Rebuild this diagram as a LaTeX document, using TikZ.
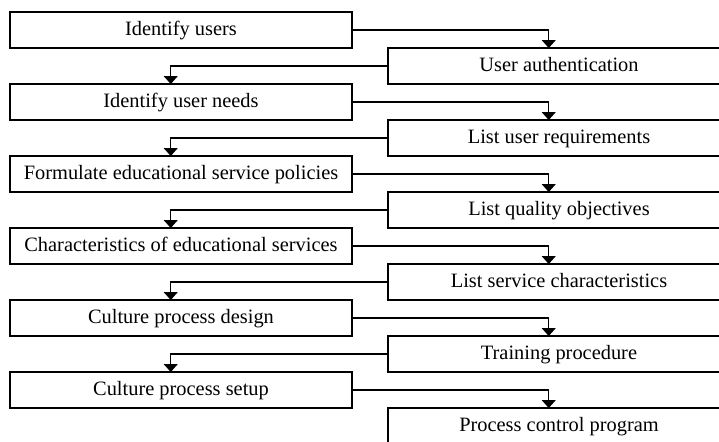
\documentclass[tikz,border=0pt]{standalone}
\usepackage{fontspec}
\setmainfont{Liberation Serif}
\usetikzlibrary{arrows.meta,positioning,calc}

\begin{document}
\begin{tikzpicture}[every node/.style={font=\fontsize{10.2}{12}\selectfont},
  stage/.style={draw,line width=1pt,outer sep=0pt,inner sep=0pt,
    minimum width=171pt,minimum height=18pt,text height=7pt,text depth=1.6pt},
  link/.style={line width=0.7pt,-{Triangle[width=7pt,length=4pt]}}]
\clip (0,0) rectangle (359.5pt,-220.5pt);
\node[stage,anchor=north west] (u1) at (5pt,-6pt) {Identify users};
\node[stage,below right=0pt and 18pt of u1] (a1) {User authentication};
\node[stage,below left=0pt and 18pt of a1] (u2) {Identify user needs};
\node[stage,below right=0pt and 18pt of u2] (a2) {List user requirements};
\node[stage,below left=0pt and 18pt of a2] (u3) {Formulate educational service policies};
\node[stage,below right=0pt and 18pt of u3] (a3) {List quality objectives};
\node[stage,below left=0pt and 18pt of a3] (u4) {Characteristics of educational services};
\node[stage,below right=0pt and 18pt of u4] (a4) {List service characteristics};
\node[stage,below left=0pt and 18pt of a4] (u5) {Culture process design};
\node[stage,below right=0pt and 18pt of u5] (a5) {Training procedure};
\node[stage,below left=0pt and 18pt of a5] (u6) {Culture process setup};
\node[stage,below right=0pt and 18pt of u6] (a6) {Process control program};
% zig-zag links
\draw[link] (u1.east) -| ($(a1.north west)!0.47!(a1.north east)$);
\draw[link] (a1.west) -| ($(u2.north west)!0.47!(u2.north east)$);
\draw[link] (u2.east) -| ($(a2.north west)!0.47!(a2.north east)$);
\draw[link] (a2.west) -| ($(u3.north west)!0.47!(u3.north east)$);
\draw[link] (u3.east) -| ($(a3.north west)!0.47!(a3.north east)$);
\draw[link] (a3.west) -| ($(u4.north west)!0.47!(u4.north east)$);
\draw[link] (u4.east) -| ($(a4.north west)!0.47!(a4.north east)$);
\draw[link] (a4.west) -| ($(u5.north west)!0.47!(u5.north east)$);
\draw[link] (u5.east) -| ($(a5.north west)!0.47!(a5.north east)$);
\draw[link] (a5.west) -| ($(u6.north west)!0.47!(u6.north east)$);
\draw[link] (u6.east) -| ($(a6.north west)!0.47!(a6.north east)$);
\end{tikzpicture}
\end{document}
